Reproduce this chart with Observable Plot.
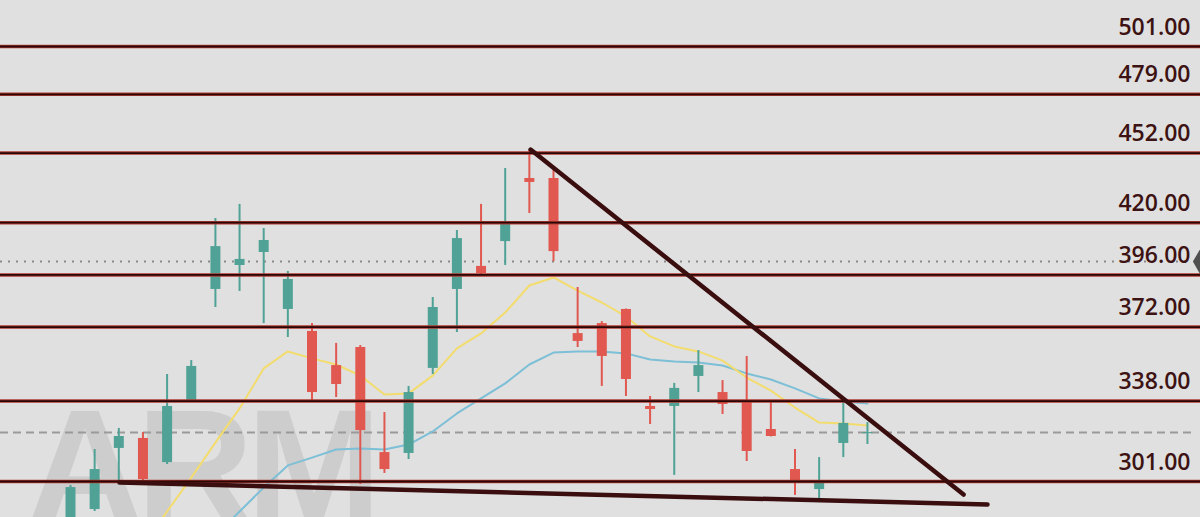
<!DOCTYPE html>
<html>
<head>
<meta charset="utf-8">
<script src="https://cdn.jsdelivr.net/npm/d3@7"></script>
<script src="https://cdn.jsdelivr.net/npm/@observablehq/plot@0.6"></script>
<style>
  html, body { margin: 0; padding: 0; background: #e0e0e0; }
  #chart svg { display: block; }
</style>
</head>
<body>
<div id="chart"></div>
<script>
// Candles (index order), values in price units
const opens  = [279, 288.1, 316.2, 320.8, 309.7, 337.8, 389.3, 400.3, 406.3, 380.1, 370, 354.3, 362.6, 314.3, 313.9, 353, 389.3, 399.9, 411.3, 440.3, 440.3, 369, 373.6, 380.1, 335.5, 335.5, 349.3, 341.9, 337.3, 324.9, 306.5, 297.3, 318.5, 323];
const highs  = [299.2, 315.7, 325.4, 323.5, 350.2, 356.6, 421.9, 428.4, 417.3, 397.6, 373.6, 364.5, 363.5, 332.7, 344.7, 385.6, 416.4, 428.4, 444.9, 453.2, 444, 390.2, 374.5, 380.3, 340.1, 346.1, 361.2, 347.4, 358.5, 337.3, 315.7, 312, 337.3, 328.1];
const lows   = [276, 287.2, 300.5, 301, 308.8, 337.3, 381, 388.4, 373.6, 367.2, 338.2, 339.6, 299.6, 304.7, 311.1, 350.2, 369.5, 396.2, 400.3, 424.2, 402.1, 362.6, 344.7, 340.1, 327.2, 303.8, 341.9, 331.8, 310.2, 321.5, 294.6, 291.3, 312, 318];
const closes = [298.2, 306.5, 321.7, 301.9, 335.5, 353.9, 409, 403.1, 411.8, 393.9, 341.9, 345.6, 324.4, 306.5, 341.9, 381, 412.7, 396.6, 419.6, 438.5, 406.7, 365.4, 358.5, 347.9, 334.1, 343.8, 354.3, 336.4, 314.8, 321.7, 300.5, 300.1, 327.7, 323.5];

// Moving averages (starting index given)
const maFastStart = 3;
const maFast = [271.6, 287.2, 302.8, 318.9, 334.6, 353.0, 360.8, 357.6, 354.8, 349.7, 341.0, 341.5, 349.7, 362.2, 369.1, 378.7, 391.1, 394.8, 388.8, 383.3, 376.9, 367.7, 363.1, 360.8, 356.6, 348.8, 342.8, 335.0, 328.1, 327.7, 326.7];
const maSlowStart = 6;
const maSlow = [276.2, 287.2, 298.2, 308.4, 312.0, 315.7, 316.2, 315.7, 318.0, 324.0, 332.3, 339.2, 346.1, 354.8, 360.3, 360.8, 360.8, 359.9, 357.1, 356.2, 355.7, 354.3, 350.7, 347.9, 343.8, 339.2, 337.8, 336.9];

// Horizontal levels and their labels
const levels = [501, 479, 452, 420, 396, 372, 338, 301];
const levelLabels = ["501.00", "479.00", "452.00", "420.00", "396.00", "372.00", "338.00", "301.00"];
const dottedLevel = 402.1;
const dashedLevel = 323.5;

// Trendlines: [index, price]
const upperTrend = [[19.05, 453.6], [36.98, 295.0]];
const lowerTrend = [[2.03, 300.5], [37.97, 290.4]];

const watermark = "ARM";

const candles = opens.map((o, i) => ({
  i, open: o, high: highs[i], low: lows[i], close: closes[i],
  up: closes[i] >= o
}));
const fastData = maFast.map((v, k) => ({i: maFastStart + k, v}));
const slowData = maSlow.map((v, k) => ({i: maSlowStart + k, v}));
const levelData = levels.map((v, k) => ({v, label: levelLabels[k]}));
const trendData = [
  ...upperTrend.map(([i, v]) => ({i, v, g: "upper"})),
  ...lowerTrend.map(([i, v]) => ({i, v, g: "lower"}))
];

const GREEN = "#4fa295";
const RED = "#e0584f";
const xMin = -2.8986, xMax = 46.791;

const chart = Plot.plot({
  width: 1200,
  height: 517,
  margin: 0,
  style: {background: "#e0e0e0", overflow: "hidden"},
  x: {domain: [xMin, xMax], axis: null},
  y: {domain: [284.45, 522.15], axis: null},
  marks: [
    Plot.text([watermark], {
      frameAnchor: "bottom-left", text: d => d, dx: 26, dy: 4,
      lineAnchor: "bottom", textAnchor: "start",
      fontSize: 162, fontWeight: "bold", fontFamily: "Liberation Sans, Arial, sans-serif",
      fill: "#cdcdcd", className: "wm"
    }),
    Plot.ruleY([dottedLevel], {x1: xMin, x2: 46.3, stroke: "#8a8a8a", strokeWidth: 2, strokeDasharray: "2,6"}),
    Plot.ruleY([dashedLevel], {x1: xMin, x2: 46.6, stroke: "#9a9a9a", strokeWidth: 2, strokeDasharray: "8,5"}),
    Plot.line(slowData, {x: "i", y: "v", stroke: "#7cbfd6", strokeWidth: 2, clip: true}),
    Plot.line(fastData, {x: "i", y: "v", stroke: "#f3dc6e", strokeWidth: 2, clip: true}),
    Plot.ruleX(candles, {x: "i", y1: "low", y2: "high", stroke: d => d.up ? GREEN : RED, strokeWidth: 2, clip: true}),
    Plot.ruleX(candles, {x: "i", y1: "open", y2: d => Math.abs(d.close - d.open) < 0.5 ? d.open + 0.6 : d.close, stroke: d => d.up ? GREEN : RED, strokeWidth: 10, clip: true}),
    Plot.ruleY(levelData, {y: "v", stroke: "#b03a32", strokeWidth: 3.5}),
    Plot.ruleY(levelData, {y: "v", stroke: "#2a0707", strokeWidth: 1.8}),
    Plot.text(levelData, {
      y: "v", text: "label", frameAnchor: "right", textAnchor: "end", lineAnchor: "bottom",
      dx: -10, dy: -12, fontSize: 23, fontWeight: 600,
      fontFamily: "Open Sans, DejaVu Sans, sans-serif", fill: "#3d1212"
    }),
    Plot.line(trendData, {x: "i", y: "v", z: "g", stroke: "#3a0e0e", strokeWidth: 4.5}),
    Plot.dot([dottedLevel], {x: xMax, y: d => d, symbol: "diamond", r: 8, fill: "#505050", stroke: null})
  ]
});
d3.select(chart).selectAll("g.wm text").attr("letter-spacing", "-7px");
document.getElementById("chart").appendChild(chart);
</script>
</body>
</html>
